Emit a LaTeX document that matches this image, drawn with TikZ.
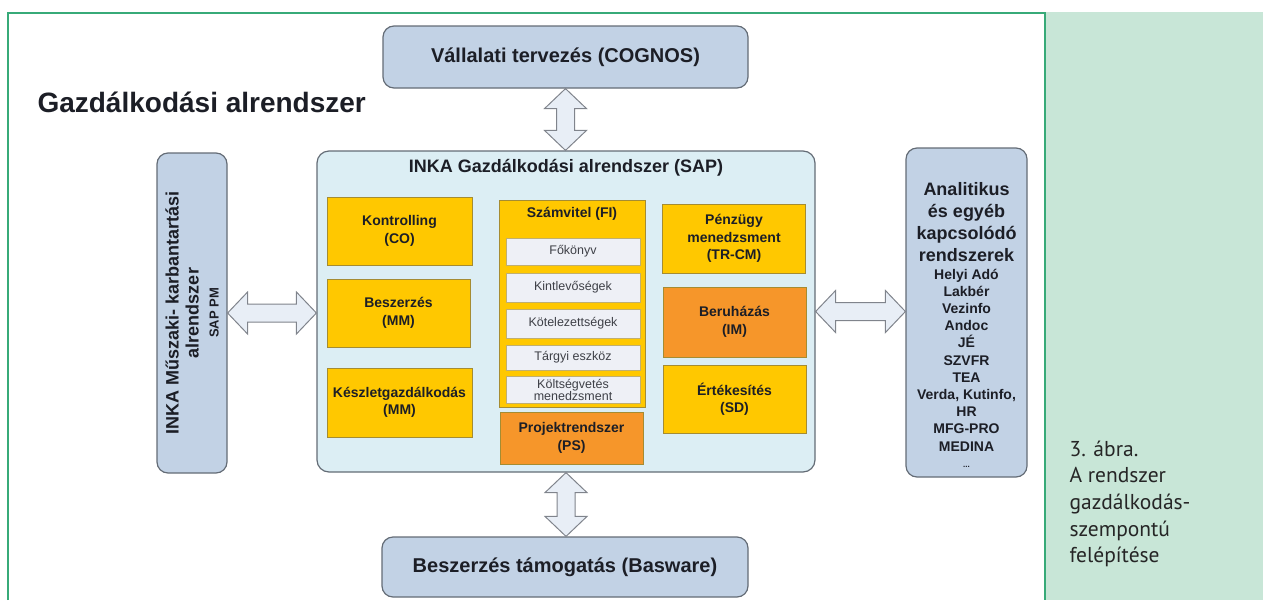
\documentclass[tikz,border=0pt]{standalone}
\usepackage{fontspec}
\setmainfont{Liberation Sans}
\newfontfamily\capfont{PT Sans}
\usetikzlibrary{calc}

\definecolor{sysblue}{RGB}{194,210,229}
\definecolor{sysedge}{RGB}{100,108,118}
\definecolor{sapbg}{RGB}{220,238,244}
\definecolor{modyel}{RGB}{255,200,0}
\definecolor{modedge}{RGB}{165,140,50}
\definecolor{modorange}{RGB}{246,150,42}
\definecolor{subfill}{RGB}{238,240,246}
\definecolor{arrfill}{RGB}{232,238,246}
\definecolor{arredge}{RGB}{128,132,140}
\definecolor{panelgreen}{RGB}{200,230,215}
\definecolor{linegreen}{RGB}{55,170,120}
\definecolor{ink}{RGB}{28,30,38}

% ketiranyu blokknyil ket pont kozott
\newcommand\biarrow[2]{%
  \draw[dblarrow] (#1) -- ($(#1)!20pt!(#2)!21pt!90:(#2)$) -- ($(#1)!20pt!(#2)!9pt!90:(#2)$)
    -- ($(#2)!20pt!(#1)!9pt!-90:(#1)$) -- ($(#2)!20pt!(#1)!21pt!-90:(#1)$) -- (#2)
    -- ($(#2)!20pt!(#1)!21pt!90:(#1)$) -- ($(#2)!20pt!(#1)!9pt!90:(#1)$)
    -- ($(#1)!20pt!(#2)!9pt!-90:(#2)$) -- ($(#1)!20pt!(#2)!21pt!-90:(#2)$) -- cycle;}

\begin{document}
\begin{tikzpicture}[x=1pt,y=-1pt,
  sysbox/.style={draw=sysedge,line width=1.2pt,fill=sysblue,rounded corners=11pt,text=ink,font=\bfseries\fontsize{20}{24}\selectfont},
  modbox/.style={draw=modedge,line width=1pt,fill=modyel,minimum width=143,text=ink,align=center,font=\bfseries\fontsize{14}{17.5}\selectfont},
  subbox/.style={draw=modedge!70,line width=0.8pt,fill=subfill,minimum width=134,text=ink!85,align=center,font=\fontsize{12.5}{12}\selectfont},
  dblarrow/.style={draw=arredge,line width=1pt,fill=arrfill,line join=miter}]
  \useasboundingbox (0,0) rectangle (1263,600);
  % keret es oldalsav
  \fill[panelgreen] (1045,12) rectangle (1263,600);
  \draw[linegreen,line width=1.6pt] (8,600) -- (8,13) -- (1045,13) -- (1045,600);
  \node[anchor=base west,text=ink,font=\bfseries\fontsize{28}{32}\selectfont] (title) at (34,112) {Gazdálkodási alrendszer};
  % kulso rendszerek
  \node[sysbox,minimum width=365,minimum height=62] (cognos) at (565.5,57) {Vállalati tervezés (COGNOS)};
  \node[sysbox,minimum width=366,minimum height=60] (basware) at (565,567) {Beszerzés támogatás (Basware)};
  \node[sysbox,minimum width=70,minimum height=320] (inka) at (192,313) {};
  \node[rotate=90,align=center,text=ink,font=\bfseries\fontsize{18}{20}\selectfont] (inkatext) at (inka) {INKA Műszaki- karbantartási\\alrendszer\\{\fontsize{13}{16}\selectfont SAP PM}};
  \node[sysbox,minimum width=121,minimum height=329] (anal) at (966.5,312.5) {};
  \node[anchor=north,align=center,text=ink,font=\bfseries\fontsize{18}{22}\selectfont] (analhead) at (966.5,179) {Analitikus\\és egyéb\\kapcsolódó\\rendszerek};
  \node[anchor=north,align=center,text=ink,font=\bfseries\fontsize{14}{17.2}\selectfont] (anallist) at (analhead.south) {Helyi Adó\\Lakbér\\Vezinfo\\Andoc\\JÉ\\SZVFR\\TEA\\Verda, Kutinfo,\\HR\\MFG-PRO\\MEDINA\\[-1pt]{\fontsize{8}{10}\selectfont ...}};
  % SAP
  \node[draw=sysedge,line width=1.2pt,fill=sapbg,rounded corners=12pt,minimum width=498,minimum height=321] (sap) at (566,311.5) {};
  \node[text=ink,font=\bfseries\fontsize{18}{22}\selectfont] (saptitle) at (566,168) {INKA Gazdálkodási alrendszer (SAP)};
  \node[modbox,minimum width=145,minimum height=68] (co) at (399.5,231) {Kontrolling\\(CO)};
  \node[modbox,minimum height=68] (mm) at (398.5,313) {Beszerzés\\(MM)};
  \node[modbox,minimum width=145,minimum height=69] (mmk) at (399.5,402.5) {Készletgazdálkodás\\(MM)};
  \node[modbox,minimum width=146,minimum height=207] (fi) at (572,303.5) {};
  \node[text=ink,font=\bfseries\fontsize{14}{17}\selectfont] (fititle) at (572,214) {Számvitel (FI)};
  \node[subbox,minimum height=27] (fk) at (573,251.5) {Főkönyv};
  \node[subbox,minimum height=29] (kint) at (573,287.5) {Kintlevőségek};
  \node[subbox,minimum height=29] (kot) at (573,323.5) {Kötelezettségek};
  \node[subbox,minimum height=25] (targy) at (573,357.5) {Tárgyi eszköz};
  \node[subbox,minimum height=27,inner sep=0pt] (kv) at (573,389.5) {Költségvetés\\menedzsment};
  \node[modbox,fill=modorange,minimum height=52] (ps) at (571.5,438) {Projektrendszer\\(PS)};
  \node[modbox,minimum height=69] (tr) at (734,238.5) {Pénzügy\\menedzsment\\(TR-CM)};
  \node[modbox,fill=modorange,minimum height=70] (im) at (734.5,322) {Beruházás\\(IM)};
  \node[modbox,minimum height=68] (sd) at (734.5,399) {Értékesítés\\(SD)};
  % nyilak
  \biarrow{cognos.south}{cognos.south |- sap.north}
  \biarrow{sap.south}{sap.south |- basware.north}
  \biarrow{inka.east}{inka.east -| sap.west}
  \biarrow{sap.east}{sap.east -| anal.west}
  % abrafelirat
  \node[anchor=north west,align=left,text=black!85,font=\capfont\fontsize{21.5}{26.7}\selectfont] (caption) at (1066,437) {3. ábra.\\A rendszer\\gazdálkodás-\\szempontú\\felépítése};
\end{tikzpicture}
\end{document}
